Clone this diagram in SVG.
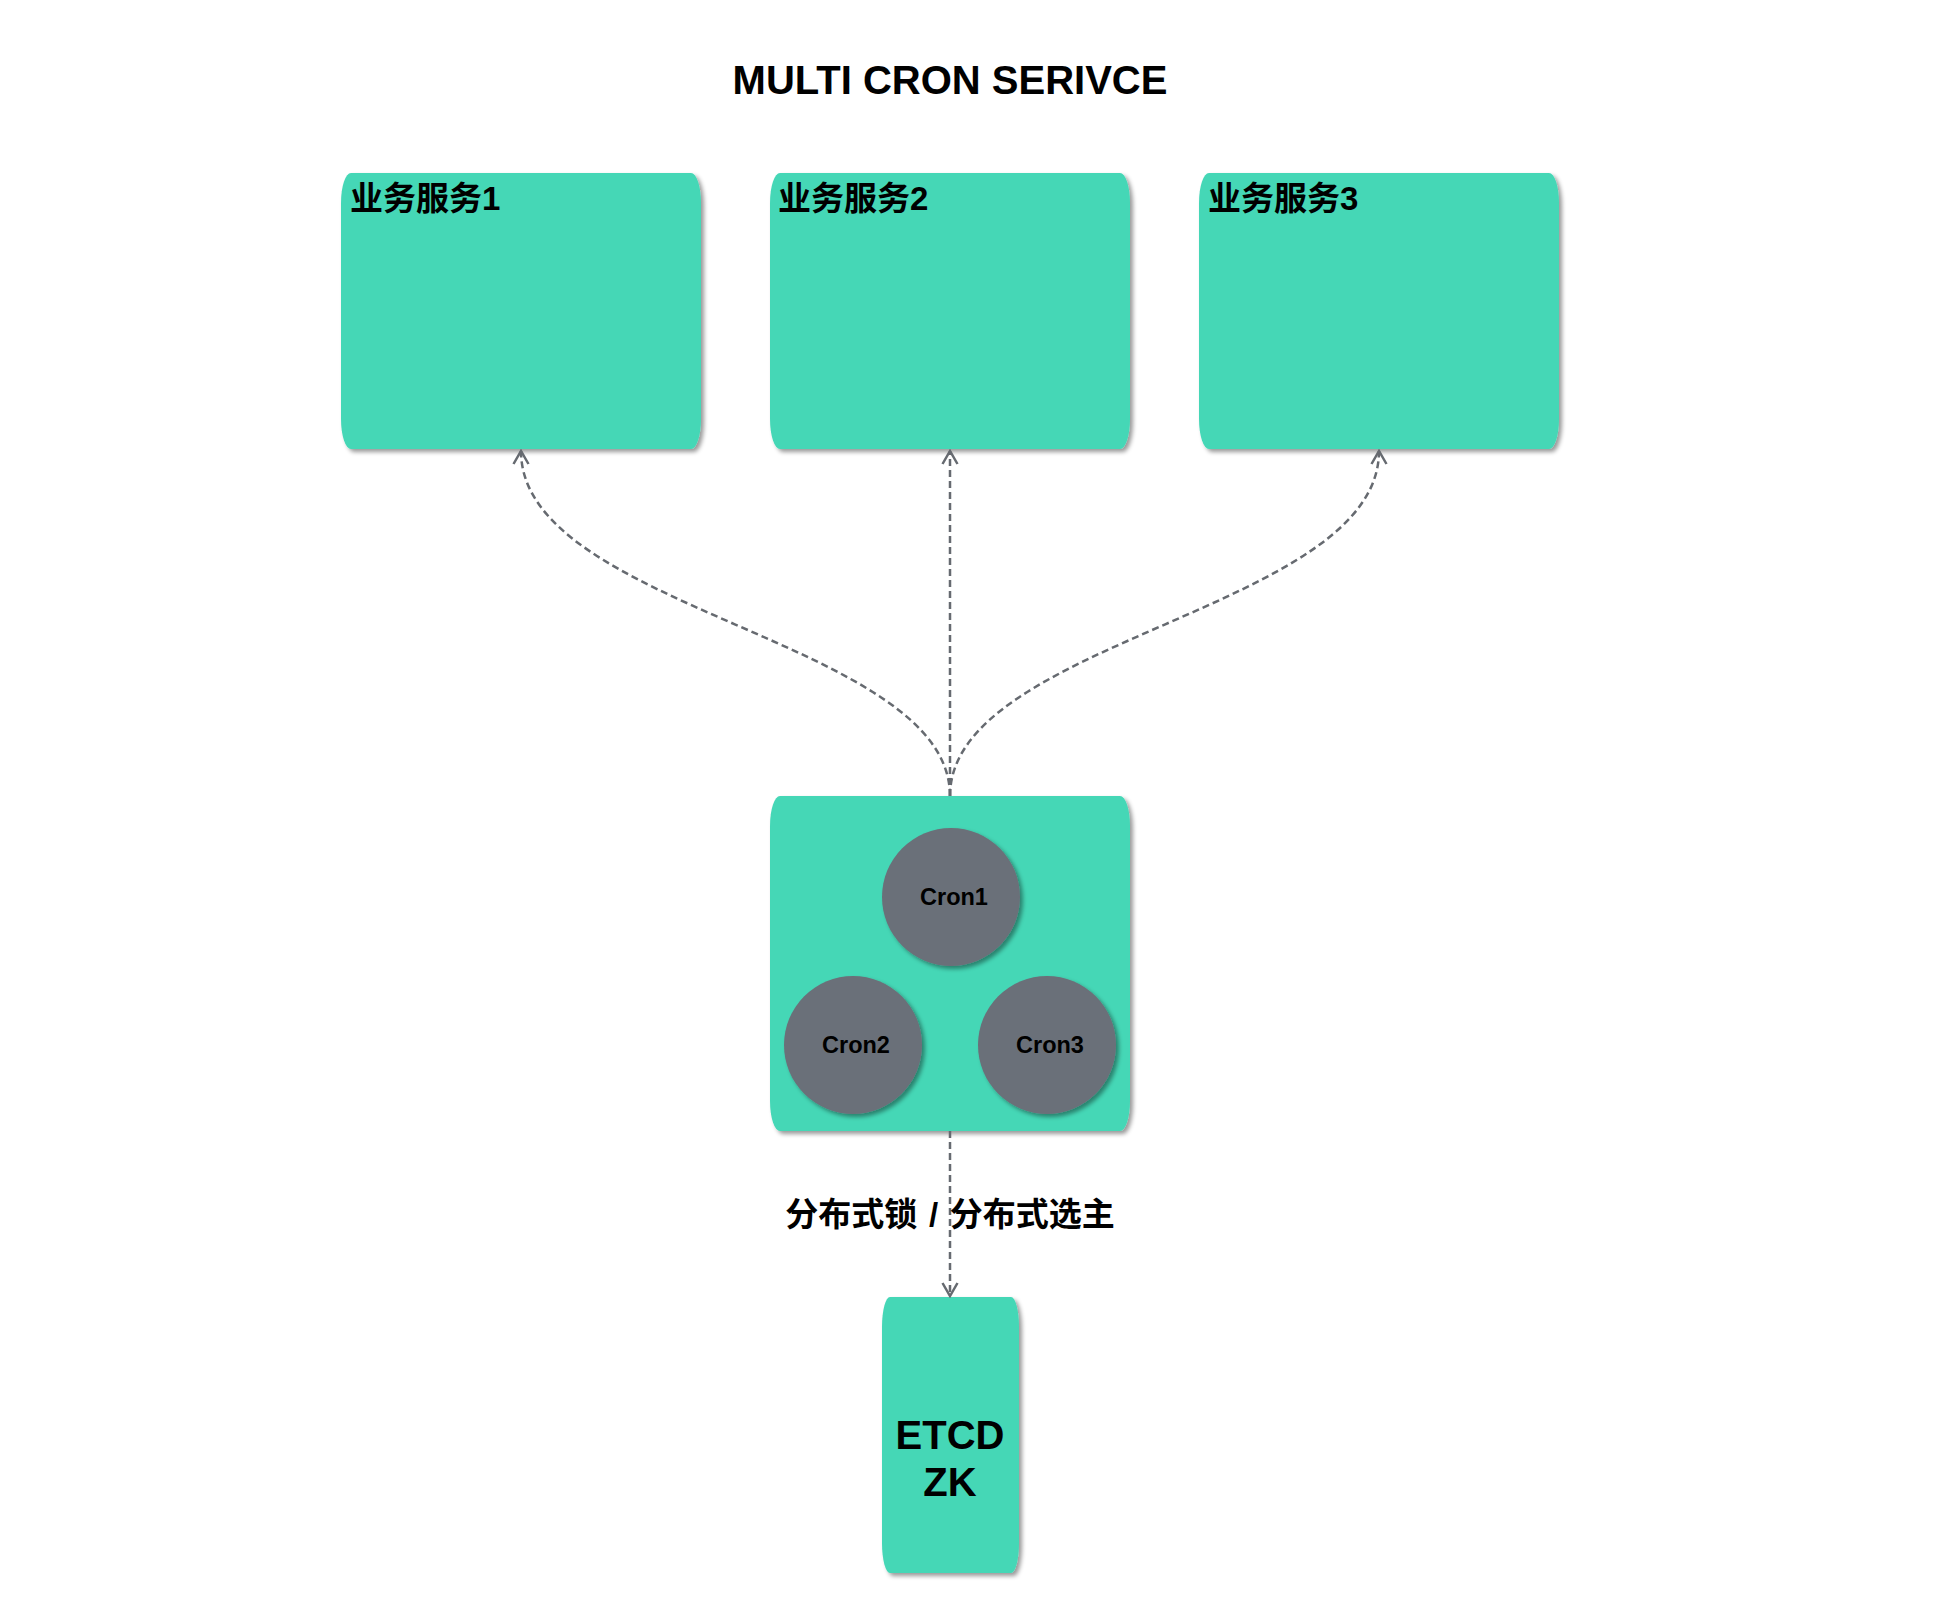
<svg xmlns="http://www.w3.org/2000/svg" width="1938" height="1624" viewBox="0 0 1938 1624">
<defs>
<filter id="sh" x="-10%" y="-10%" width="130%" height="130%">
<feDropShadow dx="3" dy="3" stdDeviation="2" flood-color="#000" flood-opacity="0.4"/>
</filter>
<marker id="arr" viewBox="0 0 16 18" refX="14" refY="9" markerWidth="16" markerHeight="18" markerUnits="userSpaceOnUse" orient="auto">
<path d="M1,1.5 L14,9 L1,16.5" fill="none" stroke="#666a70" stroke-width="2.5"/>
</marker>
<style>
.box{fill:#44d7b6;filter:url(#sh)}
.circ{fill:#6b7079;filter:url(#sh)}
.lbl{font-family:"Liberation Sans","Noto Sans CJK SC",sans-serif;font-weight:bold;fill:#000}
.edge{fill:none;stroke:#666a70;stroke-width:2.5;stroke-dasharray:7 4;marker-end:url(#arr)}
</style>
</defs>
<rect width="1938" height="1624" fill="#fff"/>
<text class="lbl" x="950" y="94" font-size="40" text-anchor="middle">MULTI CRON SERIVCE</text>
<g id="svc1">
<rect class="box" x="341" y="173" width="360" height="276" rx="10" ry="30"/>
<text class="lbl" x="350" y="210" font-size="33">业务服务1</text>
</g>
<g id="svc2">
<rect class="box" x="770" y="173" width="360" height="276" rx="10" ry="30"/>
<text class="lbl" x="778" y="210" font-size="33">业务服务2</text>
</g>
<g id="svc3">
<rect class="box" x="1199" y="173" width="360" height="276" rx="10" ry="30"/>
<text class="lbl" x="1208" y="210" font-size="33">业务服务3</text>
</g>
<g id="cron">
<rect class="box" x="770" y="796" width="360" height="335" rx="10" ry="30"/>
<g id="cron1">
<circle class="circ" cx="951" cy="897" r="69"/>
<text class="lbl" x="954" y="905" font-size="23.5" text-anchor="middle">Cron1</text>
</g>
<g id="cron2">
<circle class="circ" cx="853" cy="1045" r="69"/>
<text class="lbl" x="856" y="1053" font-size="23.5" text-anchor="middle">Cron2</text>
</g>
<g id="cron3">
<circle class="circ" cx="1047" cy="1045" r="69"/>
<text class="lbl" x="1050" y="1053" font-size="23.5" text-anchor="middle">Cron3</text>
</g>
</g>
<g id="etcd">
<rect class="box" x="882" y="1297" width="137" height="276" rx="8" ry="30"/>
<text class="lbl" x="950" y="1449" font-size="40" text-anchor="middle">ETCD</text>
<text class="lbl" x="950" y="1496" font-size="40" text-anchor="middle">ZK</text>
</g>
<g id="connectors">
<path class="edge" d="M950,796 C950,640 521,610 521,451"/>
<path class="edge" d="M950,796 L950,451"/>
<path class="edge" d="M950,796 C950,640 1379,610 1379,451"/>
<path class="edge" d="M950,1131 L950,1296"/>
<text class="lbl" x="950" y="1226" font-size="33" text-anchor="middle" word-spacing="2.5">分布式锁 / 分布式选主</text>
</g>
</svg>
